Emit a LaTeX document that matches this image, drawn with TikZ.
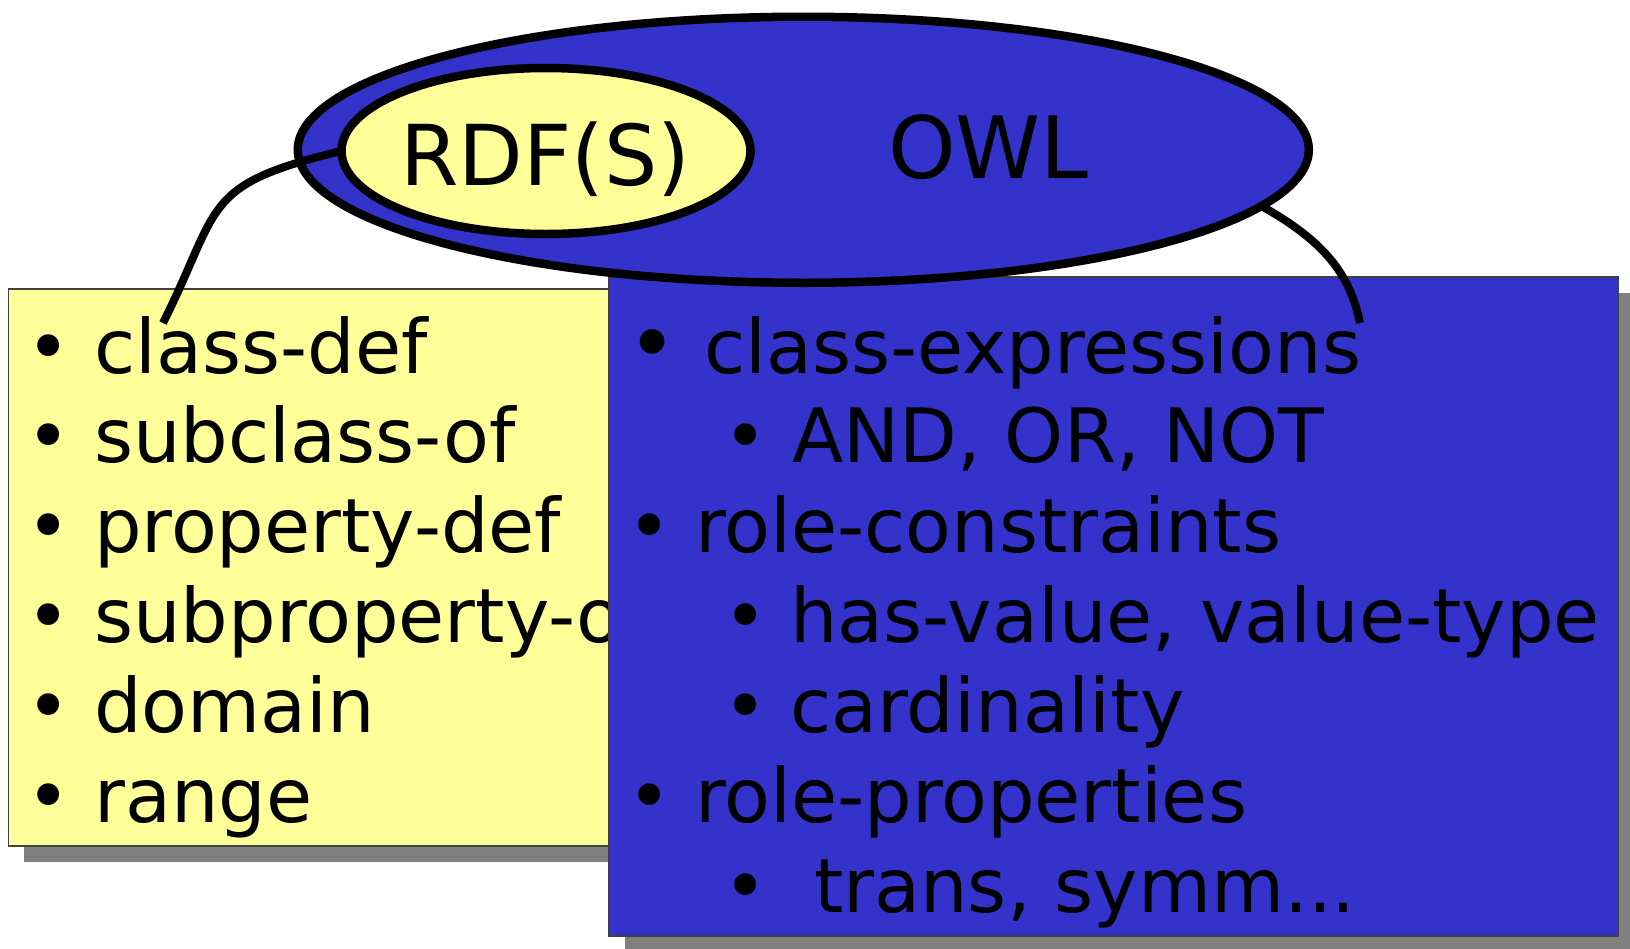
\documentclass[tikz,border=0pt]{standalone}
\usepackage{fontspec}
\setmainfont{DejaVu Sans}
\usetikzlibrary{shapes.geometric,shadows}
\definecolor{owlblue}{HTML}{3333CC}
\definecolor{rdfyellow}{HTML}{FFFF99}
\definecolor{shadowgray}{HTML}{808080}
\begin{document}
\begin{tikzpicture}[x=1pt,y=-1pt,
  box/.style={draw=black!75, line width=1.5pt, inner sep=0pt, outer sep=0pt,
    drop shadow={shadow xshift=16pt, shadow yshift=-16pt, fill=shadowgray, opacity=1}},
  oval/.style={draw=black, ellipse, line width=8.5pt, inner sep=0pt, outer sep=0pt},
  link/.style={draw=black, line width=8pt},
  item/.style={anchor=base west, inner sep=0pt, font=\fontsize{75}{90}\selectfont},
  dot/.style={anchor=base, inner sep=0pt, font=\fontsize{75}{90}\selectfont},
  title/.style={anchor=base west, inner sep=0pt, font=\fontsize{86}{100}\selectfont}
]
\useasboundingbox (0,0) rectangle (1630,948);
\clip (0,0) rectangle (1630,948);

% RDF(S) box
\node[box, fill=rdfyellow, minimum width=600.7pt, minimum height=557pt] (rdfbox) at (308.65,567.5) {};
\node[dot] (yb1) at (49,373) {•};   \node[item] (y1) at (94,373) {class-def};
\node[dot] (yb2) at (49,462.8) {•}; \node[item] (y2) at (94,462.8) {subclass-of};
\node[dot] (yb3) at (49,552.6) {•}; \node[item] (y3) at (94,552.6) {property-def};
\node[dot] (yb4) at (49,642.4) {•}; \node[item] (y4) at (94,642.4) {subproperty-of};
\node[dot] (yb5) at (49,732.2) {•}; \node[item] (y5) at (94,732.2) {domain};
\node[dot] (yb6) at (49,822) {•};   \node[item] (y6) at (94,822) {range};

% OWL box
\node[box, fill=owlblue, minimum width=1009pt, minimum height=659pt] (owlbox) at (1113.5,606.5) {};
\node[dot, font=\fontsize{85}{100}\selectfont] (bb1) at (653,373) {•}; \node[item] (b1) at (704,373) {class-expressions};
\node[dot] (bb2) at (746,462.8) {•}; \node[item] (b2) at (792,462.8) {AND, OR, NOT};
\node[dot] (bb3) at (650,552.6) {•}; \node[item] (b3) at (695,552.6) {role-constraints};
\node[dot] (bb4) at (746,642.4) {•}; \node[item] (b4) at (790,642.4) {has-value, value-type};
\node[dot] (bb5) at (746,732.2) {•}; \node[item] (b5) at (790,732.2) {cardinality};
\node[dot] (bb6) at (650,822) {•};   \node[item] (b6) at (695,822) {role-properties};
\node[dot] (bb7) at (746,912) {•};   \node[item] (b7) at (814,912) {trans, symm...};

% ellipses
\node[oval, fill=owlblue, minimum width=1011pt, minimum height=266pt] (owl) at (803.3,149.75) {};
\node[oval, fill=rdfyellow, minimum width=409pt, minimum height=166pt] (rdf) at (546,151) {};

% connectors
\coordinate (lend) at (163,323);
\coordinate (rend) at (1360,323);
\draw[link] (rdf.west) .. controls (200,185) and (222,205) .. (lend);
\draw[link] (owl.-7) .. controls (1324,241) and (1350,274) .. (rend);

% titles
\node[title, font=\fontsize{84}{100}\selectfont] (rdftext) at (400,185) {RDF(S)};
\node[title] (owltext) at (888,178) {OWL};
\end{tikzpicture}
\end{document}
